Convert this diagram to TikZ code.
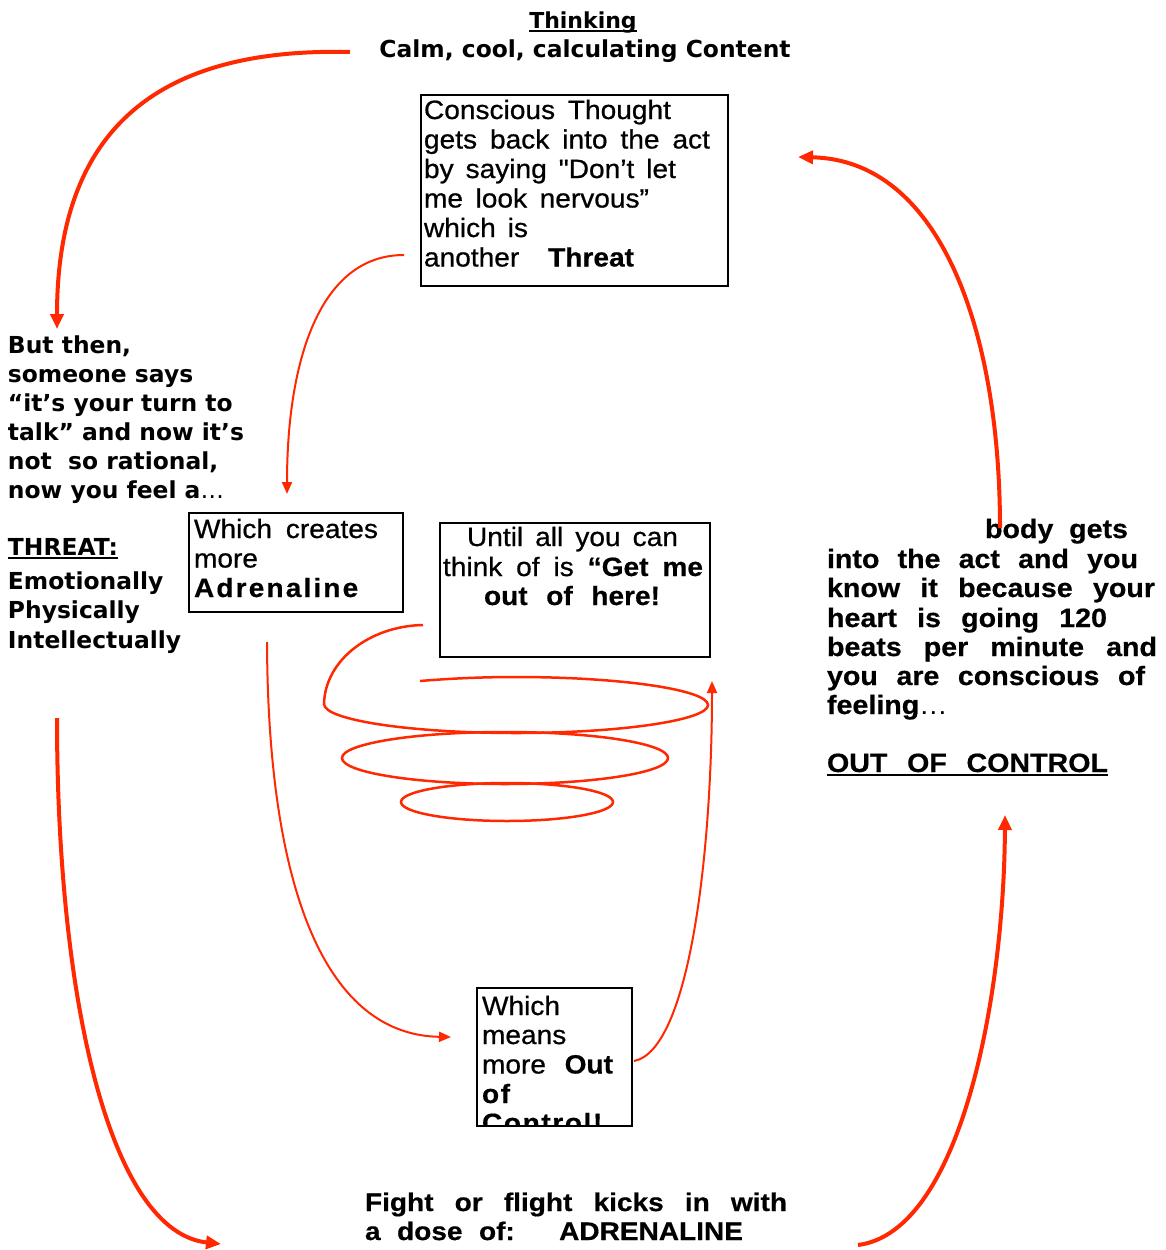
\documentclass[tikz,border=0pt]{standalone}
\usepackage{fontspec}
\setmainfont{Liberation Sans}
\newfontfamily\verd{DejaVu Sans}
\newfontfamily\boxf{Liberation Sans}[FakeStretch=1.06,Ligatures=TeXOff,UprightFeatures={FakeBold=0.7},BoldFeatures={FakeBold=0.4}]
\newfontfamily\rtf{Liberation Sans}[FakeStretch=1.08,BoldFeatures={FakeBold=0.5}]
\newfontfamily\btf{Liberation Sans}[FakeStretch=1.1,BoldFeatures={FakeBold=0.5}]
\usetikzlibrary{arrows.meta}
\definecolor{arr}{RGB}{255,40,0}
\newcommand\myul[1]{\setbox0\hbox{#1}\rlap{\rule[-4pt]{\wd0}{2pt}}\box0}
\newcommand\jl[2]{\makebox[#1][s]{#2}}
\begin{document}
\begin{tikzpicture}[x=1pt,y=-1pt,
  txt/.style={anchor=base west, inner sep=0pt, outer sep=0pt},
  vbold/.style={txt, font=\verd\bfseries\fontsize{23.4}{29}\selectfont},
  vtitle/.style={txt, font=\verd\bfseries\fontsize{22}{26}\selectfont},
  boxtxt/.style={txt, font=\boxf\fontsize{26.5}{29.5}\selectfont},
  righttxt/.style={txt, font=\rtf\bfseries\fontsize{26.5}{29.5}\selectfont},
  bottxt/.style={txt, font=\btf\bfseries\fontsize{25.5}{29}\selectfont},
  boxframe/.style={draw=black, line width=2pt, inner sep=0pt, outer sep=0pt, anchor=north west},
  thickarrow/.style={draw=arr, line width=4pt, -{Triangle[length=15pt,width=13pt]}},
  thinarrow/.style={draw=arr, line width=2pt, -{Triangle[length=12pt,width=10pt]}},
  coil/.style={draw=arr, line width=2.5pt},
]
\fill[white] (0,0) rectangle (1165,1250);
\useasboundingbox (0,0) rectangle (1165,1250);

% title
\node[vtitle, anchor=base] (thinking) at (583,28) {\myul{Thinking}};
\node[vbold, anchor=base] (calm) at (585,57) {Calm, cool, calculating Content};

% left block
\node[vbold] (l1) at (8,353) {But then,};
\node[vbold] (l2) at (8,382) {someone says};
\node[vbold] (l3) at (8,411) {“it’s your turn to};
\node[vbold] (l4) at (8,440) {talk” and now it’s};
\node[vbold] (l5) at (8,469) {not\ \ so rational,};
\node[vbold] (l6) at (8,498) {now you feel a{\mdseries …}};
\node[vbold] (l7) at (8,555) {\myul{THREAT:}};
\node[vbold] (l8) at (8,589) {Emotionally};
\node[vbold] (l9) at (8,618) {Physically};
\node[vbold] (l10) at (8,648) {Intellectually};

% box A
\node[boxframe, minimum width=307pt, minimum height=191pt] (boxA) at (421,95) {};
\node[boxtxt] (a1) at (424,119) {\jl{247pt}{Conscious Thought}};
\node[boxtxt] (a2) at (424,148.5) {\jl{286pt}{gets back into the act}};
\node[boxtxt] (a3) at (424,178) {\jl{252pt}{by saying "Don’t let}};
\node[boxtxt] (a4) at (424,207.5) {\jl{225pt}{me look nervous”}};
\node[boxtxt] (a5) at (424,237) {\jl{104pt}{which is}};
\node[boxtxt] (a6) at (424,266.5) {\jl{210pt}{another \bfseries Threat}};

% box B
\node[boxframe, minimum width=214pt, minimum height=99pt] (boxB) at (189,513) {};
\node[boxtxt] (b1) at (194,538) {\jl{184pt}{Which creates}};
\node[boxtxt] (b2) at (194,567.5) {more};
\node[boxtxt] (b3) at (194,597) {\bfseries\addfontfeature{LetterSpace=8}Adrenaline};

% box C
\node[boxframe, minimum width=270pt, minimum height=134pt] (boxC) at (440,523) {};
\node[boxtxt, anchor=base] (c1) at (572.5,546) {\jl{211pt}{Until all you can}};
\node[boxtxt, anchor=base] (c2) at (573,576) {\jl{260pt}{think of is {\bfseries “Get me}}};
\node[boxtxt, anchor=base] (c3) at (572,605) {\bfseries\jl{176pt}{out of here!}};

% box D
\begin{scope}
\clip (478,989) rectangle (631,1125);
\node[boxtxt] (d1) at (482,1015) {Which};
\node[boxtxt] (d2) at (482,1044) {means};
\node[boxtxt] (d3) at (482,1073.5) {\jl{131pt}{more \bfseries Out}};
\node[boxtxt] (d4) at (482,1103) {\bfseries\addfontfeature{LetterSpace=6}of};
\node[boxtxt] (d5) at (482,1132) {\bfseries\addfontfeature{LetterSpace=6}Control!};
\end{scope}
\node[boxframe, minimum width=155pt, minimum height=138pt] (boxD) at (477,988) {};

% right block
\node[righttxt] (r1) at (985,538) {\jl{143pt}{body gets}};
\node[righttxt] (r2) at (827,568) {\jl{311pt}{into the act and you}};
\node[righttxt] (r3) at (827,597) {\jl{328pt}{know it because your}};
\node[righttxt] (r4) at (827,627) {\jl{280pt}{heart is going 120}};
\node[righttxt] (r5) at (827,656) {\jl{330pt}{beats per minute and}};
\node[righttxt] (r6) at (827,685) {\jl{318pt}{you are conscious of}};
\node[righttxt] (r7) at (827,714) {feeling{\mdseries …}};
\node[righttxt] (r8) at (827,772) {\myul{\jl{281pt}{OUT OF CONTROL}}};

% bottom
\node[bottxt] (f1) at (365,1211) {\jl{422pt}{Fight or flight kicks in with}};
\node[bottxt] (f2) at (365,1240) {\jl{378pt}{a dose of: \ ADRENALINE}};

% connector end points
\coordinate (tlS) at (350,52);
\coordinate (tlE) at (57,329);
\coordinate (trS) at (1000,528);
\coordinate (trE) at (798,157);
\coordinate (brS) at (858,1245);
\coordinate (brE) at (1005,815);
\coordinate (blS) at (57,718);
\coordinate (blE) at (221,1244);
\coordinate (aS) at (404,255);
\coordinate (aE) at (287,494);
\coordinate (bS) at (267,642);
\coordinate (bE) at (451,1037);
\coordinate (dS) at (634,1061);
\coordinate (dE) at (712,681);
\coordinate (sS) at (423,625);

% thick arrows
\draw[thickarrow] (tlS) .. controls (180,48) and (57,110) .. (tlE);
\draw[thickarrow] (trS) .. controls (1000,330) and (940,160) .. (trE);
\draw[thickarrow] (brS) .. controls (960,1232) and (1004,1000) .. (brE);
\draw[thickarrow] (blS) .. controls (57,1000) and (110,1232) .. (blE);

% thin arrows
\draw[thinarrow] (aS) .. controls (320,255) and (287,360) .. (aE);
\draw[thinarrow] (bS) .. controls (268,900) and (330,1035) .. (bE);
\draw[thinarrow] (dS) .. controls (690,1050) and (712,850) .. (dE);

% spiral
\draw[coil] (sS) .. controls (370,626) and (325,660) .. (324,704)
  .. controls (324,720) and (410,733) .. (516,733)
  .. controls (622,733) and (708,720) .. (708,705)
  .. controls (708,690) and (622,677) .. (516,677)
  .. controls (482,677) and (450,678.5) .. (420,681);
\draw[coil] (505,758) ellipse [x radius=163, y radius=26];
\draw[coil] (507,802) ellipse [x radius=106, y radius=19];
\end{tikzpicture}
\end{document}
